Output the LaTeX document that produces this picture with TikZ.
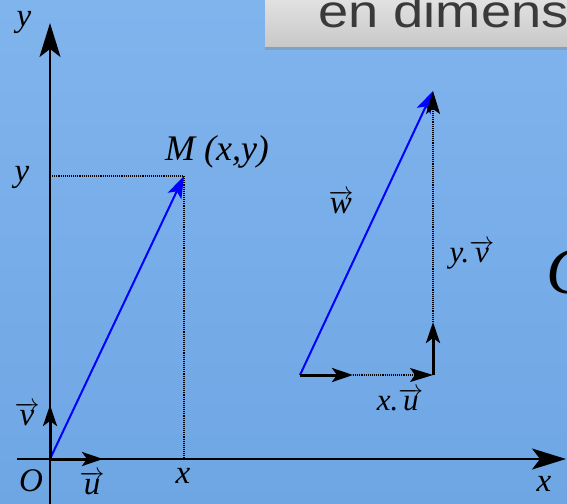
\documentclass[tikz,border=0pt]{standalone}
\usepackage{fontspec}
\setmainfont{Liberation Serif}
\newfontfamily\headfont{Liberation Sans}
\usetikzlibrary{arrows.meta,shadows}
\definecolor{bgtop}{RGB}{128,180,237}
\definecolor{bgbot}{RGB}{110,166,228}
\definecolor{boxtop}{RGB}{236,236,236}
\definecolor{boxbot}{RGB}{200,200,200}
\definecolor{headtext}{RGB}{58,58,58}
\newcommand\vecl[1]{$\overrightarrow{\mbox{\itshape #1}}$}
\begin{document}
\begin{tikzpicture}[x=1pt,y=-1pt,
 lab/.style={font=\fontsize{33}{36}\selectfont\itshape, inner sep=0pt},
 smlab/.style={font=\fontsize{31}{34}\selectfont\itshape, inner sep=0pt},
 axis/.style={line width=2pt,-{Stealth[length=34pt,width=21pt,inset=8pt]}},
 basevec/.style={line width=3pt,-{Stealth[length=21pt,width=14pt,inset=5pt]}},
 bluevec/.style={blue, line width=2pt,-{Stealth[length=22pt,width=15pt,inset=5pt]}},
 guide/.style={densely dotted, line width=1.1pt},
 guidearrow/.style={densely dotted, line width=1.1pt,-{Stealth[length=23pt,width=14pt,inset=5pt]}},
]
\useasboundingbox (0,0) rectangle (567,503);
\begin{scope}
\clip (0,0) rectangle (567,503);
\fill[top color=bgtop, bottom color=bgbot] (0,0) rectangle (567,503);
% header box
\path[top color=boxtop, bottom color=boxbot, drop shadow={shadow xshift=0pt, shadow yshift=-3pt, opacity=0.35}] (265,-20) rectangle (600,47);
\node[anchor=base west, inner sep=0pt, text=headtext, font=\headfont\fontsize{46}{50}\selectfont, xscale=1.18] (head) at (318,28) {en dimensions};
% big letter at right edge
\node[anchor=west, inner sep=0pt, font=\fontsize{66}{70}\selectfont\itshape] (bigC) at (546,272) {C};
% coordinates
\coordinate (O) at (50,459);
\coordinate (Ybot) at (50,515);
\coordinate (Ytop) at (50,23);
\coordinate (Xleft) at (17,459);
\coordinate (Xright) at (566,459);
\coordinate (U) at (103,459);
\coordinate (V) at (50,405);
\coordinate (M) at (184,176);
\coordinate (Yp) at (50,176);
\coordinate (Xp) at (184,459);
\coordinate (A) at (300,375);
\coordinate (B) at (353,375);
\coordinate (C) at (433,375);
\coordinate (D) at (433,322);
\coordinate (E) at (433,91);
% guides
\draw[guide] (Yp) -- (M);
\draw[guide] (M) -- (Xp);
% axes
\draw[axis] (Ybot) -- (Ytop);
\draw[axis] (Xleft) -- (Xright);
% left vectors
\draw[bluevec] (O) -- (M);
\draw[basevec] (O) -- (U);
\draw[basevec] (O) -- (V);
% right construction
\draw[bluevec] (A) -- (E);
\draw[guidearrow] (D) -- (E);
\draw[guidearrow] (B) -- (C);
\draw[basevec] (A) -- (B);
\draw[basevec] (C) -- (D);
% labels
\node[lab] (ly) at (24,22) {y};
\node[lab] (ly2) at (22,177) {y};
\node[lab] (lx) at (183,476) {x};
\node[lab] (lx2) at (544,484) {x};
\node[lab] (lO) at (31,481) {O};
\node[lab] (lu) at (92,483) {\vecl{u}};
\node[lab] (lv) at (27,414) {\vecl{v}};
\node[font=\fontsize{36}{40}\selectfont\itshape, inner sep=0pt] (lM) at (217,152) {M (x,y)};
\node[lab] (lw) at (341,202) {\vecl{w}};
\node[smlab] (lyv) at (472,255) {y.\vecl{v}};
\node[smlab] (lxu) at (400,400) {x.\vecl{u}};
\end{scope}
\end{tikzpicture}
\end{document}
